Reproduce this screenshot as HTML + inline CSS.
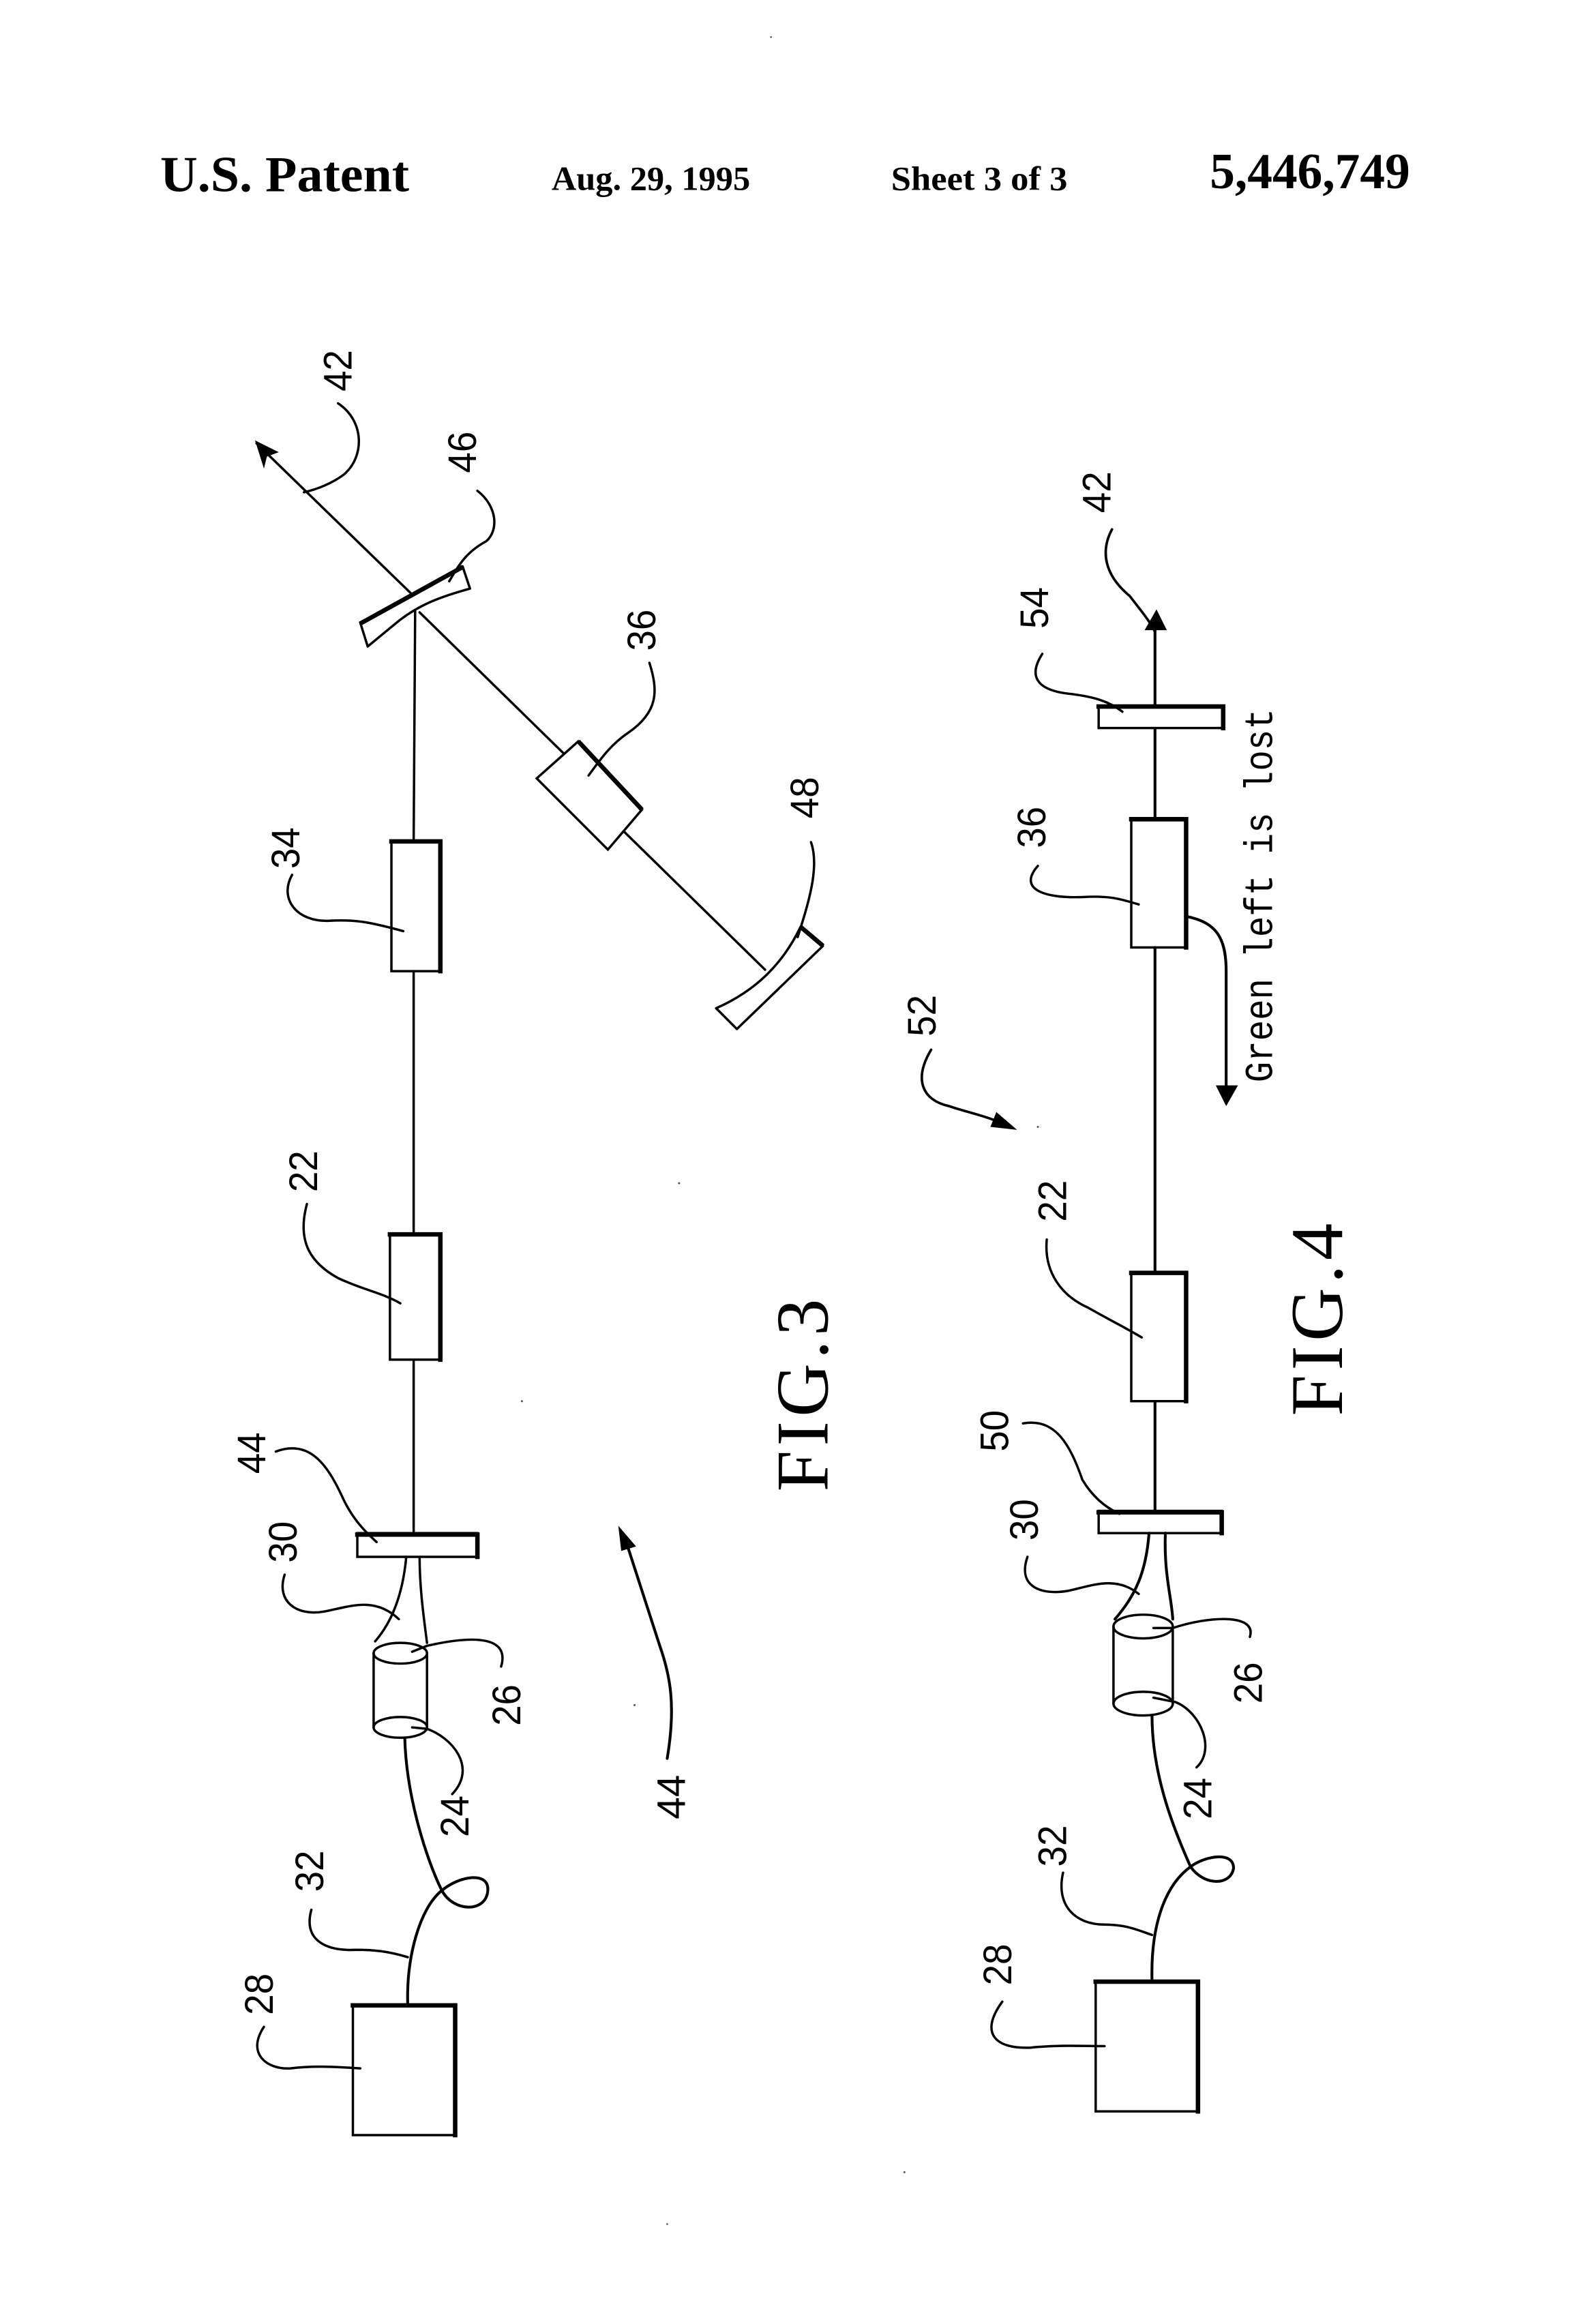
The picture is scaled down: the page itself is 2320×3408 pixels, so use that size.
<!DOCTYPE html>
<html><head><meta charset="utf-8"><style>
html,body{margin:0;padding:0;background:#fff}
svg{display:block}
.t{fill:none;stroke:#000;stroke-width:1.6;stroke-linecap:round;stroke-linejoin:round}
.b{fill:none;stroke:#000;stroke-width:3;stroke-linecap:square}
.w{fill:#fff;stroke:#000;stroke-width:1.6}
.l{font-family:"Liberation Sans",sans-serif;font-size:27px;fill:#000;text-anchor:middle;dominant-baseline:central}
.h{font-family:"Liberation Serif",serif;font-weight:bold;fill:#000}
.f{font-family:"Liberation Serif",serif;font-size:50px;fill:#000}
</style></head><body>
<svg width="2320" height="3408" viewBox="0 0 1067 1567.4" xmlns="http://www.w3.org/2000/svg">
<rect width="1080" height="1586" fill="#fff"/>
<text class="h" x="108" y="129" font-size="34" textLength="168" lengthAdjust="spacingAndGlyphs">U.S. Patent</text>
<text class="h" x="372" y="128" font-size="23" textLength="134" lengthAdjust="spacingAndGlyphs">Aug. 29, 1995</text>
<text class="h" x="601" y="128" font-size="23" textLength="119" lengthAdjust="spacingAndGlyphs">Sheet 3 of 3</text>
<text class="h" x="816" y="127" font-size="34" textLength="135" lengthAdjust="spacingAndGlyphs">5,446,749</text>

<!-- FIG 3 -->
<path class="t" d="M173 299L278 401"/>
<path d="M172 297L188 305L180 308L178 316Z" fill="#000"/>
<path class="t" d="M228 272C246 284 246 308 232 320C224 326 214 330 205 332"/>
<path d="M243 420L312 382L317 397C295 403 280 409 265 422L248 436Z" fill="#fff" stroke="#000" stroke-width="1.6" stroke-linejoin="round"/>
<path class="b" d="M244 420L311 383"/>
<path class="t" d="M322 331C336 342 336 358 328 365C315 372 310 380 303 392"/>
<path class="t" d="M280 412L279 567"/>
<path class="t" d="M283 413L380 508"/>
<path class="w" d="M390 500L433 546L410 573L362 525Z"/>
<path class="b" d="M391 501L432 545"/>
<path class="t" d="M438 447C444 466 444 480 424 494C412 502 405 512 397 523"/>
<path class="t" d="M421 561L516 654"/>
<path d="M483 680C510 668 528 650 540 625L555 638L497 694Z" fill="#fff" stroke="#000" stroke-width="1.6" stroke-linejoin="round"/>
<path class="b" d="M541 626L554 637"/>
<path class="t" d="M547 568C553 585 545 610 538 632"/>
<rect class="w" x="264" y="567" width="33" height="88"/>
<path class="b" d="M264 567.5H297V655"/>
<path class="t" d="M197 590C188 606 200 622 222 621C240 620 250 622 272 628"/>
<path class="t" d="M279 655V832M279 917V1034"/>
<rect class="w" x="263" y="832" width="34" height="85"/>
<path class="b" d="M263 832.5H297V917"/>
<path class="t" d="M207 812C200 838 210 852 228 862C245 870 258 872 270 879"/>
<rect class="w" x="241" y="1034" width="81" height="16"/>
<path class="b" d="M241 1035H322V1050"/>
<path class="t" d="M186 979C210 970 222 990 232 1012C238 1024 245 1032 254 1040"/>
<path class="t" d="M274 1050C272 1072 266 1092 253 1107M283 1050C283 1072 286 1092 288 1108"/>
<path class="t" d="M252 1115V1165M288 1115V1165" stroke-width="2"/>
<ellipse class="t" cx="270" cy="1115" rx="18" ry="7"/>
<ellipse class="t" cx="270" cy="1165" rx="18" ry="7"/>
<path class="t" d="M192 1062C186 1080 200 1090 218 1087C235 1084 252 1076 269 1092"/>
<path class="t" d="M278 1114L288 1110C310 1105 345 1100 338 1124"/>
<path class="t" d="M278 1165L288 1166C305 1172 322 1192 305 1210"/>
<path class="t" style="stroke-width:1.9" d="M273 1172C274 1212 288 1255 298 1275C306 1290 328 1290 329 1275C330 1262 310 1265 298 1275C283 1287 274 1320 275 1352"/>
<rect class="w" x="238" y="1352" width="69" height="88"/>
<path class="b" d="M238 1352.5H307V1440"/>
<path class="t" d="M210 1288C204 1310 222 1316 240 1315C252 1315 262 1316 275 1320"/>
<path class="t" d="M178 1367C166 1385 180 1396 196 1395C212 1393 228 1394 243 1395"/>
<path class="t" style="stroke-width:1.9" d="M423 1042L445 1110C452 1130 456 1150 450 1186"/>
<path d="M417 1029L429 1043L419 1046Z" fill="#000"/>
<text class="l" transform="translate(228 250) rotate(-90)" textLength="28" lengthAdjust="spacingAndGlyphs">42</text>
<text class="l" transform="translate(312 305) rotate(-90)" textLength="28" lengthAdjust="spacingAndGlyphs">46</text>
<text class="l" transform="translate(433 425) rotate(-90)" textLength="28" lengthAdjust="spacingAndGlyphs">36</text>
<text class="l" transform="translate(543 538) rotate(-90)" textLength="28" lengthAdjust="spacingAndGlyphs">48</text>
<text class="l" transform="translate(193 572) rotate(-90)" textLength="28" lengthAdjust="spacingAndGlyphs">34</text>
<text class="l" transform="translate(205 790) rotate(-90)" textLength="28" lengthAdjust="spacingAndGlyphs">22</text>
<text class="l" transform="translate(170 980) rotate(-90)" textLength="28" lengthAdjust="spacingAndGlyphs">44</text>
<text class="l" transform="translate(191 1040) rotate(-90)" textLength="28" lengthAdjust="spacingAndGlyphs">30</text>
<text class="l" transform="translate(342 1150) rotate(-90)" textLength="28" lengthAdjust="spacingAndGlyphs">26</text>
<text class="l" transform="translate(307 1225) rotate(-90)" textLength="28" lengthAdjust="spacingAndGlyphs">24</text>
<text class="l" transform="translate(209 1262) rotate(-90)" textLength="28" lengthAdjust="spacingAndGlyphs">32</text>
<text class="l" transform="translate(175 1345) rotate(-90)" textLength="28" lengthAdjust="spacingAndGlyphs">28</text>
<text class="l" transform="translate(453 1212) rotate(-90)" textLength="30" lengthAdjust="spacingAndGlyphs">44</text>
<text class="f" transform="translate(558 1006) rotate(-90)" textLength="130" lengthAdjust="spacing">FIG.3</text>

<!-- FIG 4 -->
<path class="t" style="stroke-width:1.9" d="M779 422V476M779 491V552"/>
<path d="M780 411L787 425H772Z" fill="#000"/>
<path class="t" d="M750 357C742 372 745 388 762 402C768 410 775 418 779 426" style="stroke-width:1.7"/>
<rect class="w" x="741" y="476" width="84" height="15"/>
<path class="b" d="M741 476.5H825V491"/>
<path class="t" d="M703 441C692 458 702 466 722 468C738 470 748 473 757 480"/>
<rect class="w" x="763" y="552" width="37" height="87"/>
<path class="b" d="M763 552.5H800V639"/>
<path class="t" d="M700 584C686 600 705 606 730 605C748 604 755 606 768 610"/>
<path class="t" style="stroke-width:1.9" d="M800 618C820 622 827 632 827 655V733"/>
<path d="M827 746L820 732H835Z" fill="#000"/>
<text transform="translate(858 730) rotate(-90)" font-family="Liberation Mono,monospace" font-size="27" fill="#000" textLength="252" lengthAdjust="spacingAndGlyphs">Green left is lost</text>
<path class="t" style="stroke-width:1.9" d="M779 639V858M779 945V1020"/>
<path class="t" style="stroke-width:1.7" d="M628 708C616 728 622 742 640 746C652 750 662 752 672 756"/>
<path d="M686 762L668 760L672 750Z" fill="#000"/>
<rect class="w" x="763" y="858" width="37" height="87"/>
<path class="b" d="M763 858.5H800V945"/>
<path class="t" d="M706 836C704 858 716 874 734 882C748 890 760 896 770 902"/>
<rect class="w" x="741" y="1019" width="83" height="15"/>
<path class="b" d="M741 1020H824V1034"/>
<path class="t" d="M690 960C712 956 722 975 730 998C736 1008 744 1016 755 1021"/>
<path class="t" style="stroke-width:1.9" d="M775 1034C773 1060 766 1076 752 1092M786 1034C785 1062 790 1076 791 1092"/>
<path class="t" d="M751 1097V1149M791 1097V1149" stroke-width="2"/>
<ellipse class="t" cx="771" cy="1097" rx="20" ry="8"/>
<ellipse class="t" cx="771" cy="1149" rx="20" ry="8"/>
<path class="t" d="M693 1050C686 1070 702 1076 720 1073C735 1070 752 1062 768 1075"/>
<path class="t" d="M778 1098L791 1098C815 1090 848 1088 843 1104"/>
<path class="t" d="M778 1145L793 1148C810 1155 820 1180 807 1192"/>
<path class="t" style="stroke-width:1.9" d="M777 1157C777 1195 790 1230 803 1259C812 1272 830 1272 832 1260C832 1248 812 1252 803 1259C785 1272 776 1300 777 1336"/>
<rect class="w" x="739" y="1336" width="69" height="88"/>
<path class="b" d="M739 1336.5H808V1424"/>
<path class="t" d="M717 1263C712 1285 725 1298 745 1298C760 1298 768 1302 777 1305"/>
<path class="t" d="M676 1350C660 1372 672 1382 695 1381C715 1379 730 1380 745 1380"/>
<text class="l" transform="translate(740 332) rotate(-90)" textLength="28" lengthAdjust="spacingAndGlyphs">42</text>
<text class="l" transform="translate(698 410) rotate(-90)" textLength="28" lengthAdjust="spacingAndGlyphs">54</text>
<text class="l" transform="translate(696 558) rotate(-90)" textLength="28" lengthAdjust="spacingAndGlyphs">36</text>
<text class="l" transform="translate(622 685) rotate(-90)" textLength="28" lengthAdjust="spacingAndGlyphs">52</text>
<text class="l" transform="translate(710 810) rotate(-90)" textLength="28" lengthAdjust="spacingAndGlyphs">22</text>
<text class="l" transform="translate(671 965) rotate(-90)" textLength="28" lengthAdjust="spacingAndGlyphs">50</text>
<text class="l" transform="translate(691 1025) rotate(-90)" textLength="28" lengthAdjust="spacingAndGlyphs">30</text>
<text class="l" transform="translate(842 1135) rotate(-90)" textLength="28" lengthAdjust="spacingAndGlyphs">26</text>
<text class="l" transform="translate(808 1213) rotate(-90)" textLength="28" lengthAdjust="spacingAndGlyphs">24</text>
<text class="l" transform="translate(710 1245) rotate(-90)" textLength="28" lengthAdjust="spacingAndGlyphs">32</text>
<text class="l" transform="translate(673 1325) rotate(-90)" textLength="28" lengthAdjust="spacingAndGlyphs">28</text>
<text class="f" transform="translate(905 955) rotate(-90)" textLength="130" lengthAdjust="spacing">FIG.4</text>

<g fill="#555"><circle cx="458" cy="798" r=".7"/><circle cx="352" cy="945" r=".7"/><circle cx="428" cy="1150" r=".7"/><circle cx="610" cy="1465" r=".7"/><circle cx="700" cy="760" r=".7"/><circle cx="520" cy="25" r=".6"/><circle cx="450" cy="1500" r=".6"/></g>
</svg>
</body></html>
